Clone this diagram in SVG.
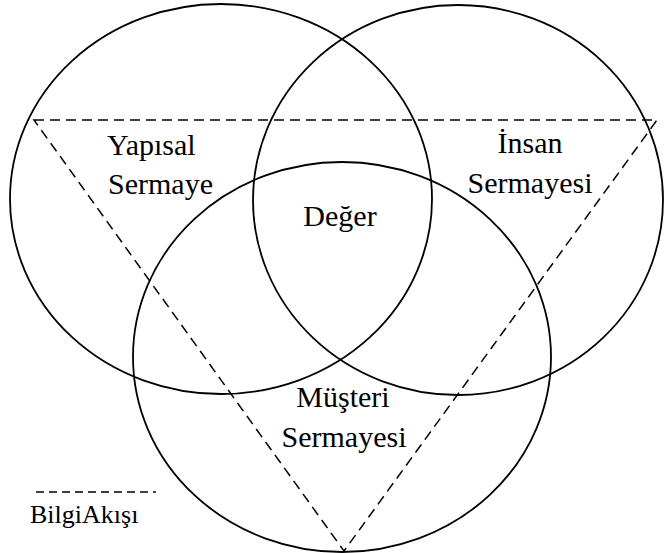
<svg xmlns="http://www.w3.org/2000/svg" width="664" height="553" viewBox="0 0 664 553">
  <style>
    .ring { fill: none; stroke: #000; stroke-width: 1.8; }
    .flow { fill: none; stroke: #000; stroke-width: 1.5; stroke-dasharray: 10 6; }
    .legend-line { fill: none; stroke: #000; stroke-width: 1.5; stroke-dasharray: 8 5; }
    .mid { text-anchor: middle; }
  </style>
  <rect width="664" height="553" fill="#fff"/>

  <!-- information flow triangle -->
  <g id="connectors">
    <polygon class="flow" points="34,120 657,120 344,551"/>
  </g>

  <g font-family="'Liberation Serif', 'Times New Roman', serif" font-size="30" fill="#000">
    <g id="structural-capital">
      <ellipse class="ring" cx="221" cy="199" rx="211" ry="195"/>
      <text x="107" y="155">Yapısal</text>
      <text x="108" y="194">Sermaye</text>
    </g>

    <g id="human-capital">
      <ellipse class="ring" cx="458" cy="200" rx="205" ry="195"/>
      <text class="mid" x="530" y="153">İnsan</text>
      <text class="mid" x="530" y="193">Sermayesi</text>
    </g>

    <g id="customer-capital">
      <ellipse class="ring" cx="342" cy="357" rx="209" ry="195"/>
      <text class="mid" x="343" y="407">Müşteri</text>
      <text class="mid" x="344" y="447">Sermayesi</text>
    </g>

    <g id="value">
      <text class="mid" x="340" y="226">Değer</text>
    </g>

    <g id="legend">
      <line class="legend-line" x1="36" y1="492" x2="156" y2="492"/>
      <text x="30" y="523" font-size="26">BilgiAkışı</text>
    </g>
  </g>
</svg>
